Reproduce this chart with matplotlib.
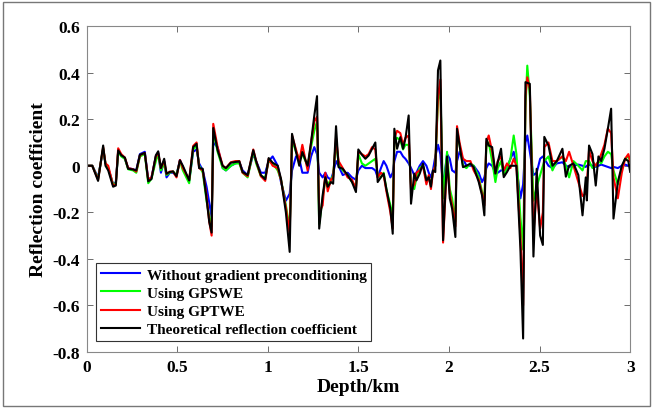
import numpy as np
import matplotlib
matplotlib.use('Agg')
import matplotlib.pyplot as plt
from matplotlib.patches import Rectangle

# depth knots (km)
depth = [
    0.000, 0.030, 0.062, 0.090, 0.103, 0.118, 0.145, 0.160, 0.173, 0.190,
    0.210, 0.228, 0.255, 0.273, 0.293, 0.320, 0.339, 0.357, 0.381, 0.394,
    0.409, 0.427, 0.440, 0.458, 0.476, 0.495, 0.514, 0.530, 0.565, 0.587,
    0.606, 0.620, 0.640, 0.661, 0.676, 0.689, 0.698, 0.722, 0.750, 0.768,
    0.795, 0.820, 0.842, 0.860, 0.888, 0.919, 0.935, 0.961, 0.985, 1.004,
    1.026, 1.054, 1.072, 1.099, 1.120, 1.133, 1.155, 1.173, 1.190, 1.219,
    1.238, 1.256, 1.271, 1.283, 1.302, 1.317, 1.330, 1.348, 1.360, 1.376,
    1.390, 1.413, 1.440, 1.464, 1.486, 1.499, 1.519, 1.538, 1.556, 1.575,
    1.593, 1.606, 1.624, 1.639, 1.654, 1.676, 1.689, 1.698, 1.713, 1.731,
    1.746, 1.759, 1.777, 1.790, 1.808, 1.820, 1.838, 1.856, 1.875, 1.888,
    1.900, 1.911, 1.924, 1.939, 1.952, 1.967, 1.989, 2.004, 2.017, 2.035,
    2.044, 2.058, 2.077, 2.096, 2.118, 2.136, 2.164, 2.182, 2.195, 2.206,
    2.219, 2.238, 2.256, 2.269, 2.287, 2.302, 2.320, 2.339, 2.357, 2.372,
    2.394, 2.409, 2.422, 2.432, 2.446, 2.466, 2.484, 2.503, 2.518, 2.526,
    2.549, 2.571, 2.595, 2.626, 2.645, 2.663, 2.687, 2.714, 2.737, 2.755,
    2.761, 2.773, 2.792, 2.810, 2.825, 2.840, 2.858, 2.877, 2.895, 2.908,
    2.932, 2.954, 2.972, 2.990, 3.000,
]

# theoretical reflection coefficient (black)
theory = [
    0.000, 0.000, -0.065, 0.087, 0.000, -0.020, -0.090, -0.085, 0.066, 0.045,
    0.035, -0.013, -0.016, -0.020, 0.047, 0.055, -0.067, -0.057, 0.045, 0.062,
    -0.010, 0.030, -0.034, -0.027, -0.024, -0.045, 0.023, 0.000, -0.063, 0.080,
    0.094, -0.010, -0.013, -0.142, -0.242, -0.287, 0.162, 0.067, 0.000, -0.010,
    0.013, 0.016, 0.019, -0.027, -0.040, 0.067, 0.019, -0.040, -0.058, 0.033,
    0.013, 0.000, -0.056, -0.200, -0.370, 0.137, 0.059, 0.000, 0.059, 0.000,
    0.100, 0.216, 0.299, -0.270, -0.127, -0.049, -0.090, -0.070, -0.077, 0.170,
    -0.006, -0.013, -0.040, -0.070, -0.113, 0.070, 0.047, 0.030, 0.044, 0.073,
    0.100, -0.070, -0.049, -0.034, -0.100, -0.185, -0.292, 0.159, 0.073, 0.123,
    0.073, 0.116, 0.216, -0.163, -0.034, -0.063, -0.034, 0.009, -0.063, -0.049,
    -0.090, -0.020, -0.027, 0.410, 0.452, -0.320, 0.040, -0.140, -0.185, -0.306,
    0.159, 0.087, -0.006, 0.000, 0.009, -0.006, -0.070, -0.127, -0.213, 0.116,
    0.087, 0.080, -0.034, 0.016, 0.073, -0.049, -0.027, 0.000, 0.000, 0.000,
    -0.356, -0.742, 0.359, 0.356, 0.352, -0.390, -0.013, -0.300, -0.340, 0.124,
    0.087, 0.000, 0.020, 0.073, -0.047, 0.000, 0.010, -0.040, -0.213, -0.050,
    -0.149, 0.087, 0.050, -0.085, 0.040, 0.020, 0.073, 0.159, 0.245, -0.227,
    -0.070, 0.000, 0.030, 0.020, -0.026,
]

# inversion using GPTWE (red)
gptwe = [
    0.000, 0.000, -0.060, 0.080, 0.010, 0.000, -0.085, -0.080, 0.075, 0.050,
    0.035, -0.010, -0.015, -0.025, 0.045, 0.055, -0.060, -0.050, 0.040, 0.055,
    -0.010, 0.020, -0.035, -0.025, -0.025, -0.050, 0.025, -0.010, -0.060, 0.085,
    0.100, -0.010, -0.020, -0.130, -0.240, -0.300, 0.180, 0.080, 0.000, -0.010,
    0.015, 0.020, 0.020, -0.030, -0.045, 0.070, 0.020, -0.045, -0.065, 0.030,
    0.000, -0.010, -0.060, -0.180, -0.290, 0.130, 0.070, 0.020, 0.090, -0.020,
    0.100, 0.190, 0.210, -0.200, -0.170, -0.030, -0.110, -0.060, -0.050, 0.120,
    0.020, -0.010, -0.050, -0.060, -0.100, 0.060, 0.050, 0.040, 0.050, 0.080,
    0.070, -0.050, -0.030, -0.040, -0.110, -0.200, -0.270, 0.120, 0.150, 0.140,
    0.090, 0.120, 0.130, -0.100, -0.080, -0.030, -0.020, 0.000, -0.080, -0.040,
    -0.100, -0.030, 0.000, 0.300, 0.370, -0.330, 0.020, -0.120, -0.170, -0.260,
    0.170, 0.100, 0.030, 0.020, 0.020, -0.020, -0.060, -0.120, -0.170, 0.100,
    0.130, 0.060, -0.030, 0.020, 0.040, -0.020, 0.010, -0.010, 0.030, 0.000,
    -0.300, -0.600, 0.300, 0.380, 0.330, -0.290, -0.100, -0.270, -0.200, 0.080,
    0.100, 0.020, 0.020, 0.040, 0.020, 0.060, 0.000, -0.070, -0.130, -0.120,
    -0.080, 0.066, 0.020, 0.000, 0.020, 0.050, 0.090, 0.160, 0.140, -0.050,
    -0.140, -0.030, 0.030, 0.050, 0.020,
]

# inversion using GPSWE (green)
gpswe = [
    0.000, 0.000, -0.055, 0.075, 0.010, -0.010, -0.080, -0.075, 0.060, 0.040,
    0.030, -0.015, -0.020, -0.030, 0.040, 0.050, -0.075, -0.055, 0.020, 0.050,
    -0.020, 0.010, -0.040, -0.030, -0.025, -0.040, 0.020, -0.020, -0.075, 0.070,
    0.085, 0.000, -0.030, -0.150, -0.220, -0.260, 0.150, 0.060, -0.010, -0.020,
    0.000, 0.010, 0.010, -0.030, -0.050, 0.060, 0.010, -0.045, -0.050, 0.020,
    0.010, -0.020, -0.060, -0.170, -0.270, 0.110, 0.060, 0.030, 0.050, 0.000,
    0.080, 0.150, 0.190, -0.250, -0.140, -0.060, -0.080, -0.060, -0.040, 0.100,
    0.010, -0.020, -0.040, -0.070, -0.090, 0.050, 0.010, 0.000, 0.010, 0.020,
    0.030, -0.040, -0.050, -0.030, -0.100, -0.170, -0.220, 0.100, 0.120, 0.110,
    0.070, 0.090, 0.090, -0.080, -0.100, -0.050, -0.010, 0.000, -0.060, -0.050,
    -0.080, -0.030, 0.000, 0.280, 0.330, -0.140, 0.060, -0.100, -0.140, -0.240,
    0.130, 0.090, 0.000, -0.010, 0.010, 0.000, -0.050, -0.110, -0.150, 0.080,
    0.100, 0.020, -0.070, -0.010, 0.020, -0.040, -0.010, 0.030, 0.130, 0.050,
    -0.220, -0.360, 0.250, 0.430, 0.300, -0.150, -0.090, -0.040, 0.000, 0.020,
    0.040, -0.020, 0.020, 0.040, 0.000, -0.050, 0.020, 0.000, -0.020, 0.020,
    0.020, 0.020, -0.010, 0.000, 0.020, 0.010, 0.040, 0.060, 0.050, -0.020,
    -0.080, -0.010, 0.030, 0.040, 0.020,
]

# inversion without gradient preconditioning (blue)
nograd = [
    0.000, 0.000, -0.050, 0.070, 0.010, -0.010, -0.080, -0.070, 0.060, 0.045,
    0.030, -0.010, -0.015, -0.020, 0.050, 0.060, -0.060, -0.050, 0.040, 0.055,
    -0.030, 0.020, -0.050, -0.030, -0.030, -0.040, 0.025, -0.005, -0.065, 0.060,
    0.070, 0.010, -0.020, -0.090, -0.160, -0.220, 0.100, 0.080, -0.010, -0.020,
    0.000, 0.010, 0.015, -0.020, -0.040, 0.050, 0.020, -0.030, -0.030, 0.020,
    0.040, 0.000, -0.070, -0.150, -0.120, -0.020, 0.040, 0.030, -0.030, -0.030,
    0.040, 0.080, 0.050, -0.030, -0.050, -0.030, -0.050, -0.060, -0.030, 0.020,
    0.000, -0.040, -0.030, -0.050, -0.060, -0.020, 0.000, -0.010, -0.010, -0.010,
    -0.020, -0.050, -0.010, 0.020, 0.000, -0.050, -0.030, 0.020, 0.060, 0.060,
    0.040, 0.030, 0.010, -0.010, -0.040, -0.030, 0.000, 0.020, 0.000, -0.030,
    -0.050, -0.020, 0.040, 0.090, 0.050, -0.090, 0.050, 0.030, -0.020, -0.030,
    0.020, 0.060, 0.030, 0.000, 0.000, 0.000, -0.030, -0.070, -0.050, -0.010,
    0.010, 0.000, -0.030, -0.030, -0.020, -0.020, -0.010, 0.030, 0.060, 0.000,
    -0.140, -0.080, 0.100, 0.130, 0.060, -0.040, -0.030, 0.030, 0.040, 0.030,
    0.000, -0.010, 0.010, 0.015, 0.000, -0.005, 0.000, 0.005, 0.000, -0.005,
    0.000, 0.005, 0.000, -0.005, 0.000, 0.005, 0.000, -0.005, -0.010, -0.005,
    -0.010, 0.000, 0.005, 0.000, 0.000,
]

labels = ['Without gradient preconditioning', 'Using GPSWE', 'Using GPTWE',
          'Theoretical reflection coefficient']
colors = ['#0000ff', '#00ff00', '#ff0000', '#000000']

plt.rcParams['font.family'] = ['Liberation Serif', 'DejaVu Serif']
plt.rcParams['font.weight'] = 'bold'

fig = plt.figure(figsize=(6.53, 4.10), dpi=100)
ax = fig.add_axes([0.133, 0.139, 0.832, 0.795])

for ys, lab, col in zip([nograd, gpswe, gptwe, theory], labels, colors):
    ax.plot(depth, ys, color=col, linewidth=1.5, label=lab)

ax.set_xlim(0, 3)
ax.set_ylim(-0.8, 0.6)
ax.set_xticks([0, 0.5, 1, 1.5, 2, 2.5, 3])
ax.set_xticklabels(['0', '0.5', '1', '1.5', '2', '2.5', '3'])
ax.set_yticks([-0.8, -0.6, -0.4, -0.2, 0, 0.2, 0.4, 0.6])
ax.set_yticklabels(['-0.8', '-0.6', '-0.4', '-0.2', '0', '0.2', '0.4', '0.6'])
ax.tick_params(direction='in', top=True, right=True, length=4, width=0.6,
               color='#555555', labelsize=12.5, pad=5)
for lbl in ax.get_xticklabels() + ax.get_yticklabels():
    lbl.set_fontweight('bold')
for sp in ax.spines.values():
    sp.set_color('#888888')
    sp.set_linewidth(0.8)

ax.set_xlabel('Depth/km', fontsize=14, fontweight='bold', labelpad=2)
ax.set_ylabel('Reflection coefficient', fontsize=14, fontweight='bold', labelpad=4)

leg = ax.legend(loc='lower left', bbox_to_anchor=(0.017, 0.034), borderaxespad=0,
                fancybox=False, framealpha=1, edgecolor='#333333',
                prop={'size': 11, 'weight': 'bold'}, handlelength=2.6,
                labelspacing=0.3, borderpad=0.3, handletextpad=0.4)
leg.get_frame().set_linewidth(0.8)

fig.patches.append(Rectangle((0.005, 0.008), 0.99, 0.984, transform=fig.transFigure,
                             fill=False, edgecolor='#777777', linewidth=1.0))

fig.savefig('out.png', dpi=100)
